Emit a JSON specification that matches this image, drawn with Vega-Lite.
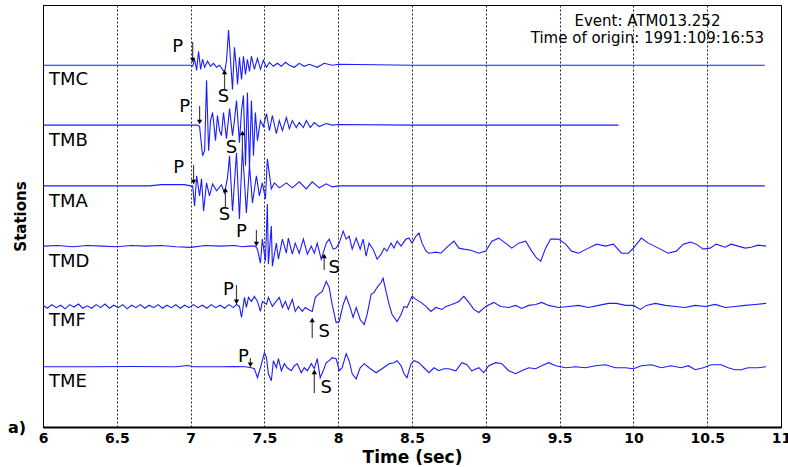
{
"$schema": "https://vega.github.io/schema/vega-lite/v6.json",
"width": 738,
"height": 422,
"autosize": {"type": "none"},
"padding": {"left": 43, "top": 5, "right": 7, "bottom": 40},
"background": "white",
"config": {"view": {"stroke": "black", "strokeWidth": 1}},
"datasets": {
"traces": [
{"s":"TMC","t":6.0,"y":6.0},{"s":"TMC","t":6.4,"y":6.0},{"s":"TMC","t":6.8,"y":6.0},{"s":"TMC","t":6.959,"y":6.0},{"s":"TMC","t":7.0,"y":6.0},
{"s":"TMC","t":7.014,"y":5.983},{"s":"TMC","t":7.027,"y":6.1},{"s":"TMC","t":7.041,"y":5.917},{"s":"TMC","t":7.054,"y":6.233},{"s":"TMC","t":7.068,"y":5.933},{"s":"TMC","t":7.081,"y":6.1},{"s":"TMC","t":7.095,"y":5.967},{"s":"TMC","t":7.115,"y":6.067},{"s":"TMC","t":7.135,"y":5.983},{"s":"TMC","t":7.155,"y":6.033},{"s":"TMC","t":7.176,"y":5.967},{"s":"TMC","t":7.196,"y":6.0},{"s":"TMC","t":7.216,"y":5.933},{"s":"TMC","t":7.23,"y":5.883},{"s":"TMC","t":7.243,"y":6.067},{"s":"TMC","t":7.257,"y":6.583},{"s":"TMC","t":7.27,"y":6.1},{"s":"TMC","t":7.284,"y":5.6},{"s":"TMC","t":7.297,"y":6.3},{"s":"TMC","t":7.311,"y":5.933},{"s":"TMC","t":7.318,"y":5.683},{"s":"TMC","t":7.331,"y":6.133},{"s":"TMC","t":7.345,"y":5.767},{"s":"TMC","t":7.358,"y":6.15},{"s":"TMC","t":7.372,"y":5.85},{"s":"TMC","t":7.385,"y":6.1},{"s":"TMC","t":7.399,"y":5.9},{"s":"TMC","t":7.412,"y":6.15},{"s":"TMC","t":7.432,"y":5.933},{"s":"TMC","t":7.453,"y":6.117},{"s":"TMC","t":7.473,"y":5.933},{"s":"TMC","t":7.493,"y":6.083},{"s":"TMC","t":7.514,"y":5.967},{"s":"TMC","t":7.534,"y":6.05},{"s":"TMC","t":7.561,"y":5.983},{"s":"TMC","t":7.588,"y":6.033},{"s":"TMC","t":7.615,"y":5.983},{"s":"TMC","t":7.642,"y":6.05},{"s":"TMC","t":7.669,"y":6.0},{"s":"TMC","t":7.703,"y":5.967},{"s":"TMC","t":7.736,"y":6.033},{"s":"TMC","t":7.77,"y":5.983},{"s":"TMC","t":7.804,"y":6.017},{"s":"TMC","t":7.858,"y":5.967},{"s":"TMC","t":7.905,"y":6.033},{"s":"TMC","t":7.959,"y":6.0},{"s":"TMC","t":8.007,"y":6.017},{"s":"TMC","t":8.5,"y":6.0},{"s":"TMC","t":9.0,"y":6.0},{"s":"TMC","t":9.5,"y":6.0},{"s":"TMC","t":10.0,"y":6.0},{"s":"TMC","t":10.5,"y":6.0},{"s":"TMC","t":10.89,"y":6.0},
{"s":"TMB","t":6.0,"y":5.008},{"s":"TMB","t":6.5,"y":5.008},{"s":"TMB","t":7.0,"y":5.008},{"s":"TMB","t":7.047,"y":5.008},{"s":"TMB","t":7.061,"y":4.983},{"s":"TMB","t":7.081,"y":4.5},{"s":"TMB","t":7.095,"y":4.583},{"s":"TMB","t":7.108,"y":5.75},{"s":"TMB","t":7.122,"y":4.583},{"s":"TMB","t":7.135,"y":5.083},{"s":"TMB","t":7.149,"y":5.217},{"s":"TMB","t":7.169,"y":4.75},{"s":"TMB","t":7.182,"y":5.167},{"s":"TMB","t":7.196,"y":4.917},{"s":"TMB","t":7.209,"y":4.833},{"s":"TMB","t":7.223,"y":5.217},{"s":"TMB","t":7.243,"y":4.783},{"s":"TMB","t":7.264,"y":5.283},{"s":"TMB","t":7.284,"y":4.833},{"s":"TMB","t":7.297,"y":5.083},{"s":"TMB","t":7.311,"y":5.417},{"s":"TMB","t":7.331,"y":4.717},{"s":"TMB","t":7.345,"y":5.25},{"s":"TMB","t":7.358,"y":5.5},{"s":"TMB","t":7.372,"y":4.333},{"s":"TMB","t":7.385,"y":5.55},{"s":"TMB","t":7.399,"y":4.283},{"s":"TMB","t":7.412,"y":5.417},{"s":"TMB","t":7.426,"y":4.5},{"s":"TMB","t":7.439,"y":5.217},{"s":"TMB","t":7.453,"y":4.75},{"s":"TMB","t":7.473,"y":5.083},{"s":"TMB","t":7.493,"y":4.983},{"s":"TMB","t":7.514,"y":5.2},{"s":"TMB","t":7.534,"y":4.917},{"s":"TMB","t":7.554,"y":5.167},{"s":"TMB","t":7.581,"y":4.867},{"s":"TMB","t":7.601,"y":5.083},{"s":"TMB","t":7.622,"y":4.917},{"s":"TMB","t":7.649,"y":5.133},{"s":"TMB","t":7.669,"y":4.95},{"s":"TMB","t":7.689,"y":5.083},{"s":"TMB","t":7.716,"y":4.967},{"s":"TMB","t":7.736,"y":5.05},{"s":"TMB","t":7.764,"y":4.967},{"s":"TMB","t":7.784,"y":5.083},{"s":"TMB","t":7.811,"y":4.967},{"s":"TMB","t":7.838,"y":5.05},{"s":"TMB","t":7.872,"y":4.983},{"s":"TMB","t":7.919,"y":5.033},{"s":"TMB","t":7.959,"y":5.008},{"s":"TMB","t":8.007,"y":5.017},{"s":"TMB","t":8.5,"y":5.008},{"s":"TMB","t":9.0,"y":5.008},{"s":"TMB","t":9.5,"y":5.008},{"s":"TMB","t":9.899,"y":5.008},
{"s":"TMA","t":6.0,"y":4.0},{"s":"TMA","t":6.723,"y":4.0},{"s":"TMA","t":6.8,"y":4.02},{"s":"TMA","t":6.959,"y":4.02},{"s":"TMA","t":7.0,"y":4.0},{"s":"TMA","t":7.014,"y":4.0},{"s":"TMA","t":7.027,"y":3.667},{"s":"TMA","t":7.041,"y":4.167},{"s":"TMA","t":7.061,"y":3.833},{"s":"TMA","t":7.074,"y":4.117},{"s":"TMA","t":7.088,"y":3.583},{"s":"TMA","t":7.108,"y":4.05},{"s":"TMA","t":7.128,"y":3.833},{"s":"TMA","t":7.149,"y":4.033},{"s":"TMA","t":7.176,"y":3.917},{"s":"TMA","t":7.209,"y":4.017},{"s":"TMA","t":7.23,"y":3.883},{"s":"TMA","t":7.25,"y":4.133},{"s":"TMA","t":7.264,"y":4.5},{"s":"TMA","t":7.284,"y":3.583},{"s":"TMA","t":7.311,"y":4.55},{"s":"TMA","t":7.331,"y":3.45},{"s":"TMA","t":7.351,"y":4.617},{"s":"TMA","t":7.378,"y":3.55},{"s":"TMA","t":7.399,"y":4.333},{"s":"TMA","t":7.419,"y":3.717},{"s":"TMA","t":7.446,"y":4.167},{"s":"TMA","t":7.466,"y":3.833},{"s":"TMA","t":7.486,"y":4.05},{"s":"TMA","t":7.507,"y":3.783},{"s":"TMA","t":7.52,"y":4.45},{"s":"TMA","t":7.547,"y":3.95},{"s":"TMA","t":7.568,"y":4.05},{"s":"TMA","t":7.601,"y":3.967},{"s":"TMA","t":7.649,"y":4.05},{"s":"TMA","t":7.689,"y":3.967},{"s":"TMA","t":7.736,"y":4.067},{"s":"TMA","t":7.784,"y":3.95},{"s":"TMA","t":7.824,"y":4.067},{"s":"TMA","t":7.872,"y":3.967},{"s":"TMA","t":7.919,"y":4.033},{"s":"TMA","t":7.959,"y":3.983},{"s":"TMA","t":8.007,"y":4.0},{"s":"TMA","t":8.5,"y":4.0},{"s":"TMA","t":9.0,"y":4.0},{"s":"TMA","t":9.5,"y":4.0},{"s":"TMA","t":10.0,"y":4.0},{"s":"TMA","t":10.5,"y":4.0},{"s":"TMA","t":10.89,"y":4.0},
{"s":"TMD","t":6.0,"y":3.0},{"s":"TMD","t":6.1,"y":3.01},{"s":"TMD","t":6.2,"y":2.99},{"s":"TMD","t":6.3,"y":3.01},{"s":"TMD","t":6.4,"y":3.0},{"s":"TMD","t":6.5,"y":2.99},{"s":"TMD","t":6.6,"y":3.01},{"s":"TMD","t":6.7,"y":3.0},{"s":"TMD","t":6.8,"y":3.01},{"s":"TMD","t":6.9,"y":2.99},{"s":"TMD","t":7.0,"y":2.98},{"s":"TMD","t":7.1,"y":3.01},{"s":"TMD","t":7.2,"y":3.0},{"s":"TMD","t":7.3,"y":3.01},{"s":"TMD","t":7.35,"y":2.99},{"s":"TMD","t":7.4,"y":3.0},{"s":"TMD","t":7.44,"y":3.0},
{"s":"TMD","t":7.453,"y":2.95},{"s":"TMD","t":7.473,"y":2.717},{"s":"TMD","t":7.486,"y":3.117},{"s":"TMD","t":7.507,"y":2.75},{"s":"TMD","t":7.52,"y":3.7},{"s":"TMD","t":7.527,"y":2.7},{"s":"TMD","t":7.547,"y":3.333},{"s":"TMD","t":7.554,"y":2.667},{"s":"TMD","t":7.581,"y":3.05},{"s":"TMD","t":7.595,"y":2.783},{"s":"TMD","t":7.622,"y":3.117},{"s":"TMD","t":7.649,"y":2.883},{"s":"TMD","t":7.662,"y":3.133},{"s":"TMD","t":7.689,"y":2.867},{"s":"TMD","t":7.709,"y":3.05},{"s":"TMD","t":7.736,"y":2.883},{"s":"TMD","t":7.764,"y":3.117},{"s":"TMD","t":7.791,"y":2.867},{"s":"TMD","t":7.818,"y":3.0},{"s":"TMD","t":7.838,"y":2.883},{"s":"TMD","t":7.858,"y":3.05},{"s":"TMD","t":7.885,"y":2.783},{"s":"TMD","t":7.919,"y":3.05},{"s":"TMD","t":7.939,"y":3.117},{"s":"TMD","t":7.966,"y":2.95},{"s":"TMD","t":7.986,"y":2.967},{"s":"TMD","t":8.007,"y":3.05},{"s":"TMD","t":8.034,"y":3.25},{"s":"TMD","t":8.054,"y":3.117},{"s":"TMD","t":8.074,"y":3.167},{"s":"TMD","t":8.095,"y":2.95},{"s":"TMD","t":8.122,"y":3.133},{"s":"TMD","t":8.149,"y":2.95},{"s":"TMD","t":8.169,"y":3.117},{"s":"TMD","t":8.189,"y":2.833},{"s":"TMD","t":8.209,"y":3.05},{"s":"TMD","t":8.236,"y":2.95},{"s":"TMD","t":8.264,"y":2.783},{"s":"TMD","t":8.291,"y":2.867},{"s":"TMD","t":8.311,"y":2.967},{"s":"TMD","t":8.331,"y":2.917},{"s":"TMD","t":8.358,"y":3.05},{"s":"TMD","t":8.378,"y":2.967},{"s":"TMD","t":8.399,"y":3.083},{"s":"TMD","t":8.426,"y":3.0},{"s":"TMD","t":8.459,"y":3.117},{"s":"TMD","t":8.48,"y":3.133},{"s":"TMD","t":8.5,"y":3.05},{"s":"TMD","t":8.527,"y":3.167},{"s":"TMD","t":8.547,"y":3.217},{"s":"TMD","t":8.568,"y":3.05},{"s":"TMD","t":8.595,"y":2.917},{"s":"TMD","t":8.615,"y":2.883},{"s":"TMD","t":8.662,"y":2.9},{"s":"TMD","t":8.696,"y":2.883},{"s":"TMD","t":8.73,"y":2.967},{"s":"TMD","t":8.784,"y":3.083},{"s":"TMD","t":8.818,"y":2.967},{"s":"TMD","t":8.851,"y":2.95},{"s":"TMD","t":8.899,"y":2.933},{"s":"TMD","t":8.953,"y":2.883},{"s":"TMD","t":9.0,"y":2.917},{"s":"TMD","t":9.041,"y":3.083},{"s":"TMD","t":9.088,"y":3.133},{"s":"TMD","t":9.142,"y":3.033},{"s":"TMD","t":9.176,"y":2.967},{"s":"TMD","t":9.223,"y":3.05},{"s":"TMD","t":9.27,"y":3.083},{"s":"TMD","t":9.311,"y":2.917},{"s":"TMD","t":9.345,"y":2.8},{"s":"TMD","t":9.372,"y":2.75},{"s":"TMD","t":9.405,"y":2.967},{"s":"TMD","t":9.439,"y":3.117},{"s":"TMD","t":9.493,"y":3.117},{"s":"TMD","t":9.541,"y":3.033},{"s":"TMD","t":9.581,"y":2.917},{"s":"TMD","t":9.628,"y":2.883},{"s":"TMD","t":9.696,"y":2.967},{"s":"TMD","t":9.75,"y":3.033},{"s":"TMD","t":9.811,"y":3.0},{"s":"TMD","t":9.865,"y":3.033},{"s":"TMD","t":9.919,"y":2.883},{"s":"TMD","t":9.966,"y":2.883},{"s":"TMD","t":10.0,"y":2.967},{"s":"TMD","t":10.054,"y":3.133},{"s":"TMD","t":10.101,"y":3.05},{"s":"TMD","t":10.169,"y":2.967},{"s":"TMD","t":10.236,"y":2.883},{"s":"TMD","t":10.291,"y":2.917},{"s":"TMD","t":10.338,"y":3.033},{"s":"TMD","t":10.385,"y":3.067},{"s":"TMD","t":10.426,"y":3.033},{"s":"TMD","t":10.473,"y":2.95},{"s":"TMD","t":10.52,"y":2.967},{"s":"TMD","t":10.561,"y":3.033},{"s":"TMD","t":10.622,"y":2.983},{"s":"TMD","t":10.662,"y":3.033},{"s":"TMD","t":10.709,"y":3.0},{"s":"TMD","t":10.757,"y":2.967},{"s":"TMD","t":10.797,"y":2.983},{"s":"TMD","t":10.845,"y":3.017},{"s":"TMD","t":10.899,"y":3.0},
{"s":"TMF","t":6.0,"y":2.02},{"s":"TMF","t":6.03,"y":1.97},{"s":"TMF","t":6.06,"y":2.03},{"s":"TMF","t":6.09,"y":1.98},{"s":"TMF","t":6.12,"y":2.02},{"s":"TMF","t":6.15,"y":1.96},{"s":"TMF","t":6.18,"y":2.03},{"s":"TMF","t":6.21,"y":1.99},{"s":"TMF","t":6.24,"y":2.04},{"s":"TMF","t":6.27,"y":1.97},{"s":"TMF","t":6.3,"y":2.01},{"s":"TMF","t":6.33,"y":1.97},{"s":"TMF","t":6.36,"y":2.03},{"s":"TMF","t":6.39,"y":1.98},{"s":"TMF","t":6.42,"y":2.04},{"s":"TMF","t":6.45,"y":1.97},{"s":"TMF","t":6.48,"y":2.02},{"s":"TMF","t":6.51,"y":1.98},{"s":"TMF","t":6.54,"y":2.03},{"s":"TMF","t":6.57,"y":1.96},{"s":"TMF","t":6.6,"y":2.02},{"s":"TMF","t":6.63,"y":1.98},{"s":"TMF","t":6.66,"y":2.03},{"s":"TMF","t":6.69,"y":1.97},{"s":"TMF","t":6.72,"y":2.02},{"s":"TMF","t":6.75,"y":1.98},{"s":"TMF","t":6.78,"y":2.03},{"s":"TMF","t":6.81,"y":1.97},{"s":"TMF","t":6.84,"y":2.02},{"s":"TMF","t":6.87,"y":1.98},{"s":"TMF","t":6.9,"y":2.03},{"s":"TMF","t":6.93,"y":1.97},{"s":"TMF","t":6.96,"y":2.02},{"s":"TMF","t":6.99,"y":1.98},{"s":"TMF","t":7.02,"y":2.03},{"s":"TMF","t":7.05,"y":1.98},{"s":"TMF","t":7.08,"y":2.02},{"s":"TMF","t":7.11,"y":1.97},{"s":"TMF","t":7.14,"y":2.03},{"s":"TMF","t":7.17,"y":1.98},{"s":"TMF","t":7.2,"y":2.02},{"s":"TMF","t":7.23,"y":1.97},{"s":"TMF","t":7.26,"y":2.03},{"s":"TMF","t":7.29,"y":1.98},
{"s":"TMF","t":7.311,"y":2.033},{"s":"TMF","t":7.331,"y":2.0},{"s":"TMF","t":7.345,"y":1.817},{"s":"TMF","t":7.365,"y":2.15},{"s":"TMF","t":7.378,"y":1.983},{"s":"TMF","t":7.392,"y":2.15},{"s":"TMF","t":7.412,"y":2.083},{"s":"TMF","t":7.432,"y":2.167},{"s":"TMF","t":7.453,"y":2.083},{"s":"TMF","t":7.473,"y":1.917},{"s":"TMF","t":7.486,"y":2.083},{"s":"TMF","t":7.514,"y":2.033},{"s":"TMF","t":7.527,"y":2.15},{"s":"TMF","t":7.554,"y":2.0},{"s":"TMF","t":7.574,"y":2.067},{"s":"TMF","t":7.601,"y":2.15},{"s":"TMF","t":7.622,"y":1.983},{"s":"TMF","t":7.642,"y":2.083},{"s":"TMF","t":7.662,"y":1.95},{"s":"TMF","t":7.689,"y":2.117},{"s":"TMF","t":7.709,"y":1.917},{"s":"TMF","t":7.73,"y":2.0},{"s":"TMF","t":7.757,"y":1.917},{"s":"TMF","t":7.777,"y":1.983},{"s":"TMF","t":7.797,"y":1.95},{"s":"TMF","t":7.824,"y":1.917},{"s":"TMF","t":7.845,"y":2.15},{"s":"TMF","t":7.865,"y":2.2},{"s":"TMF","t":7.892,"y":2.25},{"s":"TMF","t":7.919,"y":2.417},{"s":"TMF","t":7.939,"y":2.317},{"s":"TMF","t":7.959,"y":2.033},{"s":"TMF","t":7.986,"y":1.733},{"s":"TMF","t":8.007,"y":1.75},{"s":"TMF","t":8.034,"y":2.033},{"s":"TMF","t":8.054,"y":2.167},{"s":"TMF","t":8.081,"y":1.983},{"s":"TMF","t":8.101,"y":1.817},{"s":"TMF","t":8.122,"y":1.983},{"s":"TMF","t":8.149,"y":1.783},{"s":"TMF","t":8.176,"y":1.7},{"s":"TMF","t":8.196,"y":1.867},{"s":"TMF","t":8.223,"y":2.2},{"s":"TMF","t":8.243,"y":2.233},{"s":"TMF","t":8.264,"y":2.317},{"s":"TMF","t":8.291,"y":2.4},{"s":"TMF","t":8.304,"y":2.467},{"s":"TMF","t":8.324,"y":2.25},{"s":"TMF","t":8.345,"y":2.033},{"s":"TMF","t":8.365,"y":1.867},{"s":"TMF","t":8.399,"y":1.75},{"s":"TMF","t":8.426,"y":1.867},{"s":"TMF","t":8.446,"y":2.0},{"s":"TMF","t":8.466,"y":1.983},{"s":"TMF","t":8.5,"y":2.167},{"s":"TMF","t":8.527,"y":2.117},{"s":"TMF","t":8.561,"y":2.067},{"s":"TMF","t":8.595,"y":2.0},{"s":"TMF","t":8.628,"y":1.917},{"s":"TMF","t":8.662,"y":1.983},{"s":"TMF","t":8.703,"y":1.95},{"s":"TMF","t":8.73,"y":2.0},{"s":"TMF","t":8.77,"y":2.033},{"s":"TMF","t":8.818,"y":2.083},{"s":"TMF","t":8.851,"y":2.167},{"s":"TMF","t":8.885,"y":2.067},{"s":"TMF","t":8.919,"y":1.95},{"s":"TMF","t":8.953,"y":1.9},{"s":"TMF","t":9.0,"y":2.0},{"s":"TMF","t":9.054,"y":2.067},{"s":"TMF","t":9.101,"y":2.0},{"s":"TMF","t":9.155,"y":1.983},{"s":"TMF","t":9.203,"y":2.017},{"s":"TMF","t":9.243,"y":1.967},{"s":"TMF","t":9.291,"y":2.017},{"s":"TMF","t":9.338,"y":2.033},{"s":"TMF","t":9.378,"y":2.067},{"s":"TMF","t":9.426,"y":2.017},{"s":"TMF","t":9.493,"y":1.983},{"s":"TMF","t":9.561,"y":2.0},{"s":"TMF","t":9.628,"y":2.017},{"s":"TMF","t":9.696,"y":1.983},{"s":"TMF","t":9.764,"y":2.017},{"s":"TMF","t":9.831,"y":2.05},{"s":"TMF","t":9.885,"y":2.05},{"s":"TMF","t":9.946,"y":2.017},{"s":"TMF","t":10.0,"y":2.017},{"s":"TMF","t":10.047,"y":1.95},{"s":"TMF","t":10.088,"y":2.017},{"s":"TMF","t":10.149,"y":2.05},{"s":"TMF","t":10.216,"y":2.017},{"s":"TMF","t":10.284,"y":2.0},{"s":"TMF","t":10.351,"y":1.983},{"s":"TMF","t":10.419,"y":2.017},{"s":"TMF","t":10.486,"y":2.0},{"s":"TMF","t":10.554,"y":2.033},{"s":"TMF","t":10.622,"y":1.983},{"s":"TMF","t":10.689,"y":2.0},{"s":"TMF","t":10.757,"y":2.017},{"s":"TMF","t":10.824,"y":2.033},{"s":"TMF","t":10.899,"y":2.05},
{"s":"TME","t":6.0,"y":1.0},{"s":"TME","t":6.3,"y":1.0},{"s":"TME","t":6.6,"y":1.003},{"s":"TME","t":6.9,"y":1.0},{"s":"TME","t":6.98,"y":1.02},{"s":"TME","t":7.02,"y":1.0},{"s":"TME","t":7.2,"y":1.0},{"s":"TME","t":7.3,"y":1.003},{"s":"TME","t":7.37,"y":1.0},
{"s":"TME","t":7.412,"y":0.983},{"s":"TME","t":7.432,"y":0.967},{"s":"TME","t":7.453,"y":0.817},{"s":"TME","t":7.473,"y":0.983},{"s":"TME","t":7.486,"y":1.1},{"s":"TME","t":7.5,"y":1.233},{"s":"TME","t":7.514,"y":1.15},{"s":"TME","t":7.527,"y":0.883},{"s":"TME","t":7.547,"y":0.767},{"s":"TME","t":7.561,"y":1.1},{"s":"TME","t":7.581,"y":0.983},{"s":"TME","t":7.595,"y":1.133},{"s":"TME","t":7.615,"y":0.933},{"s":"TME","t":7.635,"y":1.05},{"s":"TME","t":7.655,"y":0.983},{"s":"TME","t":7.682,"y":0.933},{"s":"TME","t":7.703,"y":1.017},{"s":"TME","t":7.723,"y":1.05},{"s":"TME","t":7.75,"y":0.9},{"s":"TME","t":7.77,"y":0.983},{"s":"TME","t":7.791,"y":0.933},{"s":"TME","t":7.818,"y":1.05},{"s":"TME","t":7.838,"y":0.967},{"s":"TME","t":7.858,"y":1.133},{"s":"TME","t":7.878,"y":0.817},{"s":"TME","t":7.899,"y":0.933},{"s":"TME","t":7.919,"y":1.067},{"s":"TME","t":7.939,"y":1.1},{"s":"TME","t":7.959,"y":1.15},{"s":"TME","t":7.986,"y":1.133},{"s":"TME","t":8.007,"y":0.933},{"s":"TME","t":8.027,"y":0.983},{"s":"TME","t":8.054,"y":1.217},{"s":"TME","t":8.074,"y":1.1},{"s":"TME","t":8.095,"y":0.883},{"s":"TME","t":8.122,"y":0.8},{"s":"TME","t":8.149,"y":0.983},{"s":"TME","t":8.176,"y":1.05},{"s":"TME","t":8.209,"y":0.983},{"s":"TME","t":8.257,"y":0.9},{"s":"TME","t":8.297,"y":0.967},{"s":"TME","t":8.345,"y":1.05},{"s":"TME","t":8.378,"y":1.067},{"s":"TME","t":8.399,"y":1.1},{"s":"TME","t":8.426,"y":1.017},{"s":"TME","t":8.446,"y":0.883},{"s":"TME","t":8.466,"y":0.817},{"s":"TME","t":8.493,"y":1.05},{"s":"TME","t":8.514,"y":1.1},{"s":"TME","t":8.547,"y":1.067},{"s":"TME","t":8.581,"y":0.983},{"s":"TME","t":8.615,"y":0.9},{"s":"TME","t":8.649,"y":0.983},{"s":"TME","t":8.682,"y":0.933},{"s":"TME","t":8.716,"y":0.967},{"s":"TME","t":8.75,"y":0.967},{"s":"TME","t":8.797,"y":0.933},{"s":"TME","t":8.838,"y":1.067},{"s":"TME","t":8.872,"y":1.033},{"s":"TME","t":8.905,"y":0.933},{"s":"TME","t":8.953,"y":0.983},{"s":"TME","t":8.986,"y":0.9},{"s":"TME","t":9.02,"y":1.017},{"s":"TME","t":9.068,"y":1.067},{"s":"TME","t":9.108,"y":1.05},{"s":"TME","t":9.155,"y":0.933},{"s":"TME","t":9.203,"y":0.883},{"s":"TME","t":9.243,"y":0.933},{"s":"TME","t":9.291,"y":0.983},{"s":"TME","t":9.338,"y":0.967},{"s":"TME","t":9.378,"y":1.017},{"s":"TME","t":9.426,"y":1.067},{"s":"TME","t":9.473,"y":1.017},{"s":"TME","t":9.541,"y":0.983},{"s":"TME","t":9.608,"y":1.0},{"s":"TME","t":9.676,"y":0.983},{"s":"TME","t":9.743,"y":1.017},{"s":"TME","t":9.811,"y":1.033},{"s":"TME","t":9.878,"y":0.983},{"s":"TME","t":9.946,"y":0.983},{"s":"TME","t":10.0,"y":0.967},{"s":"TME","t":10.054,"y":1.017},{"s":"TME","t":10.122,"y":1.033},{"s":"TME","t":10.189,"y":0.983},{"s":"TME","t":10.257,"y":1.017},{"s":"TME","t":10.324,"y":0.983},{"s":"TME","t":10.372,"y":1.017},{"s":"TME","t":10.419,"y":0.95},{"s":"TME","t":10.473,"y":0.983},{"s":"TME","t":10.527,"y":1.033},{"s":"TME","t":10.595,"y":1.033},{"s":"TME","t":10.642,"y":0.983},{"s":"TME","t":10.689,"y":0.95},{"s":"TME","t":10.73,"y":0.95},{"s":"TME","t":10.777,"y":0.983},{"s":"TME","t":10.845,"y":0.983},{"s":"TME","t":10.899,"y":1.0}
],
"arrows": [
{"t":7.014,"y":6.386,"y2":6.088},
{"t":7.23,"y":5.59,"y2":5.889},
{"t":7.061,"y":5.325,"y2":5.06},
{"t":7.351,"y":4.546,"y2":4.877},
{"t":7.02,"y":4.347,"y2":4.065},
{"t":7.236,"y":3.633,"y2":3.932},
{"t":7.446,"y":3.269,"y2":3.036},
{"t":7.905,"y":2.605,"y2":2.837},
{"t":7.311,"y":2.357,"y2":2.075},
{"t":7.824,"y":1.478,"y2":1.776},
{"t":7.405,"y":1.146,"y2":1.03},
{"t":7.838,"y":0.565,"y2":0.914}
],
"heads": [
{"t":7.014,"y":6.088,"dir":"down"},
{"t":7.23,"y":5.889,"dir":"up"},
{"t":7.061,"y":5.06,"dir":"down"},
{"t":7.351,"y":4.877,"dir":"up"},
{"t":7.02,"y":4.065,"dir":"down"},
{"t":7.236,"y":3.932,"dir":"up"},
{"t":7.446,"y":3.036,"dir":"down"},
{"t":7.905,"y":2.837,"dir":"up"},
{"t":7.311,"y":2.075,"dir":"down"},
{"t":7.824,"y":1.776,"dir":"up"},
{"t":7.405,"y":1.03,"dir":"down"},
{"t":7.838,"y":0.914,"dir":"up"}
],
"phases": [
{"t":6.912,"y":6.303,"label":"P"},
{"t":7.223,"y":5.474,"label":"S"},
{"t":6.959,"y":5.308,"label":"P"},
{"t":7.277,"y":4.629,"label":"S"},
{"t":6.919,"y":4.297,"label":"P"},
{"t":7.23,"y":3.517,"label":"S"},
{"t":7.345,"y":3.236,"label":"P"},
{"t":7.973,"y":2.639,"label":"S"},
{"t":7.257,"y":2.274,"label":"P"},
{"t":7.905,"y":1.577,"label":"S"},
{"t":7.358,"y":1.163,"label":"P"},
{"t":7.919,"y":0.648,"label":"S"}
],
"stations": [
{"t":6.04,"y":5.76,"label":"TMC"},
{"t":6.04,"y":4.74,"label":"TMB"},
{"t":6.04,"y":3.74,"label":"TMA"},
{"t":6.04,"y":2.74,"label":"TMD"},
{"t":6.04,"y":1.76,"label":"TMF"},
{"t":6.04,"y":0.74,"label":"TME"}
],
"notes": [
{"t":10.095,"y":6.735,"label":"Event: ATM013.252"},
{"t":10.095,"y":6.453,"label":"Time of origin: 1991:109:16:53"}
],
"panel": [
{"t":5.824,"y":-0.015,"label":"a)"}
]
},
"layer": [
{
"data": {"name": "traces"},
"mark": {"type": "line", "color": "#1c1cff", "strokeWidth": 1.1, "clip": true},
"encoding": {
"x": {"field": "t", "type": "quantitative",
"scale": {"domain": [6, 11], "nice": false, "zero": false},
"axis": {"title": "Time (sec)", "values": [6,6.5,7,7.5,8,8.5,9,9.5,10,10.5,11], "format": "~g",
"grid": true, "gridDash": [2,2], "gridColor": "#000000", "gridWidth": 1, "gridOpacity": 0.85,
"ticks": false, "domainColor": "black", "domainWidth": 2,
"labelFont": "DejaVu Sans", "labelFontWeight": "bold", "labelFontSize": 14, "labelColor": "black",
"labelPadding": 4, "labelFlush": false, "labelOverlap": false,
"titleFont": "DejaVu Sans", "titleFontSize": 17, "titleFontWeight": "bold", "titleColor": "black", "titlePadding": 4}},
"y": {"field": "y", "type": "quantitative",
"scale": {"domain": [0, 7], "nice": false, "zero": false},
"axis": {"title": "Stations", "labels": false, "ticks": false, "grid": false,
"domainColor": "black", "domainWidth": 1,
"titleFont": "DejaVu Sans", "titleFontSize": 15, "titleFontWeight": "bold", "titleColor": "black", "titlePadding": 15}},
"detail": {"field": "s", "type": "nominal"}
}
},
{
"data": {"name": "arrows"},
"mark": {"type": "rule", "color": "#444444", "strokeWidth": 1.2},
"encoding": {
"x": {"field": "t", "type": "quantitative"},
"y": {"field": "y", "type": "quantitative"},
"y2": {"field": "y2"}
}
},
{
"data": {"name": "heads"},
"mark": {"type": "point", "filled": true, "color": "black", "size": 28, "opacity": 1},
"encoding": {
"x": {"field": "t", "type": "quantitative"},
"y": {"field": "y", "type": "quantitative"},
"shape": {"field": "dir", "type": "nominal", "scale": {"domain": ["down", "up"], "range": ["triangle-down", "triangle-up"]}, "legend": null}
}
},
{
"data": {"name": "phases"},
"mark": {"type": "text", "font": "DejaVu Sans", "fontSize": 18, "color": "black", "align": "center", "baseline": "middle"},
"encoding": {
"x": {"field": "t", "type": "quantitative"},
"y": {"field": "y", "type": "quantitative"},
"text": {"field": "label"}
}
},
{
"data": {"name": "stations"},
"mark": {"type": "text", "font": "DejaVu Sans", "fontSize": 18, "color": "black", "align": "left", "baseline": "middle"},
"encoding": {
"x": {"field": "t", "type": "quantitative"},
"y": {"field": "y", "type": "quantitative"},
"text": {"field": "label"}
}
},
{
"data": {"name": "notes"},
"mark": {"type": "text", "font": "DejaVu Sans", "fontSize": 15, "color": "black", "align": "center", "baseline": "middle"},
"encoding": {
"x": {"field": "t", "type": "quantitative"},
"y": {"field": "y", "type": "quantitative"},
"text": {"field": "label"}
}
},
{
"data": {"name": "panel"},
"mark": {"type": "text", "font": "DejaVu Sans", "fontSize": 16, "fontWeight": "bold", "color": "black", "align": "center", "baseline": "middle"},
"encoding": {
"x": {"field": "t", "type": "quantitative"},
"y": {"field": "y", "type": "quantitative"},
"text": {"field": "label"}
}
}
]
}
